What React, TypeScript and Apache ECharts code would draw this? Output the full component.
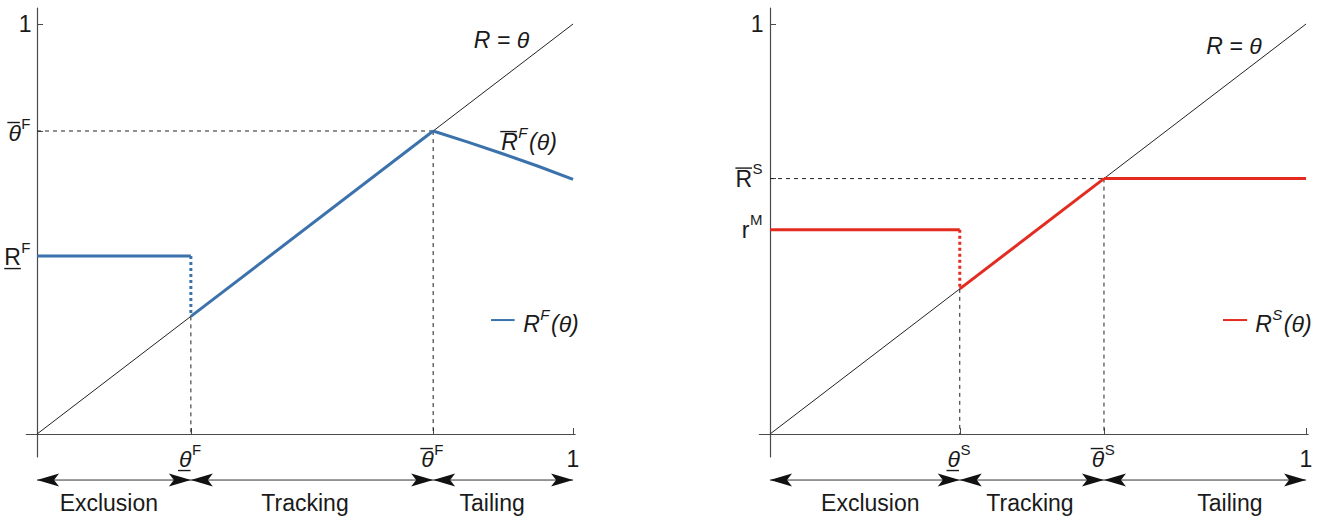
import React, { useEffect, useRef } from "react";
import * as echarts from "echarts";

// Thresholds, left panel (F)
const F_THETA_LOW = 0.287;
const F_THETA_HIGH = 0.739;
const F_R_LOW = 0.434;

// Thresholds, right panel (S)
const S_THETA_LOW = 0.354;
const S_THETA_HIGH = 0.623;
const S_R_M = 0.498;

// 45-degree reference line R = θ
const diagonal = [[0, 0], [1, 1]];

// R^F(θ) pieces
const fExclusion = [[0, 0.434], [0.287, 0.434]];
const fJump = [[0.287, 0.434], [0.287, 0.287]];
const fTracking = [[0.287, 0.287], [0.739, 0.739]];
const fTailing = [[0.739, 0.739], [0.804, 0.712], [0.87, 0.683], [0.935, 0.653], [1, 0.621]];
const fGuides = [
  [[0, 0.739], [0.739, 0.739]],
  [[0.739, 0.739], [0.739, 0]],
  [[0.287, 0.287], [0.287, 0]],
];

// R^S(θ) pieces
const sExclusion = [[0, 0.498], [0.354, 0.498]];
const sJump = [[0.354, 0.498], [0.354, 0.354]];
const sTracking = [[0.354, 0.354], [0.623, 0.623]];
const sTailing = [[0.623, 0.623], [1, 0.623]];
const sGuides = [
  [[0, 0.623], [0.623, 0.623]],
  [[0.623, 0.623], [0.623, 0]],
  [[0.354, 0.354], [0.354, 0]],
];

const regimeNames = ["Exclusion", "Tracking", "Tailing"];

const FONT = '"Liberation Sans", Arial, Helvetica, sans-serif';
const INK = "#1a1a1a";
const AXIS = "#4a4a4a";
const BLUE = "#3b72ac";
const RED = "#e32b20";
const BASE = 23;
const SUP = 15;

type Part = { text: string; italic?: boolean; sup?: boolean };
type Label = { parts: Part[]; bar?: "over" | "under" };

const measureCtx = document.createElement("canvas").getContext("2d")!;
function fontOf(size: number, italic?: boolean) {
  return `${italic ? "italic " : ""}${size}px ${FONT}`;
}
function textWidth(text: string, size: number, italic?: boolean) {
  measureCtx.font = fontOf(size, italic);
  return measureCtx.measureText(text).width;
}

// Builds a label group (base glyph, optional superscript, tail, bar) anchored at px/py
function label(px: number, py: number, spec: Label, align: "left" | "center" | "right", dy = 0) {
  const children: any[] = [];
  let cx = 0;
  let barStart = 0;
  let barEnd = 0;
  spec.parts.forEach((p, i) => {
    const size = p.sup ? SUP : BASE;
    const w = textWidth(p.text, size, p.italic);
    children.push({
      type: "text",
      x: cx,
      y: p.sup ? -10 : 0,
      silent: true,
      style: {
        text: p.text,
        font: fontOf(size, p.italic),
        fill: INK,
        textAlign: "left",
        textVerticalAlign: "middle",
      },
    });
    if (i === 0) {
      barStart = cx + (p.italic ? -1 : 0);
      barEnd = cx + w + (p.italic ? -1 : 0);
    }
    cx += w + (p.sup ? 1.5 : 0.5);
  });
  if (spec.bar) {
    const by = spec.bar === "over" ? -10.5 : 11.5;
    children.push({
      type: "line",
      silent: true,
      shape: { x1: barStart, y1: by, x2: barEnd, y2: by },
      style: { stroke: INK, lineWidth: 1.4 },
    });
  }
  const total = cx;
  const gx = align === "left" ? px : align === "center" ? px - total / 2 : px - total;
  return { type: "group", x: gx, y: py + dy, children };
}

function arrowHead(tx: number, ty: number, dir: 1 | -1) {
  const L = 22;
  const H = 6.5;
  const N = 17;
  return {
    type: "polygon",
    silent: true,
    shape: {
      points: [
        [tx, ty],
        [tx - dir * L, ty - H],
        [tx - dir * N, ty],
        [tx - dir * L, ty + H],
      ],
    },
    style: { fill: "#111" },
  };
}

function grid(left: number) {
  return { left, top: 8, width: 548.9, height: 449 };
}

function xAxis(gridIndex: number, ticks: number[]) {
  return {
    type: "value",
    gridIndex,
    min: -0.02,
    max: 1.004,
    axisLine: { onZero: true, lineStyle: { color: AXIS, width: 1.2 } },
    axisTick: { show: true, inside: true, length: 6, customValues: ticks, lineStyle: { color: AXIS } },
    axisLabel: { show: false },
    splitLine: { show: false },
  };
}

function yAxis(gridIndex: number, ticks: number[]) {
  return {
    type: "value",
    gridIndex,
    min: -0.056,
    max: 1.039,
    axisLine: { onZero: true, lineStyle: { color: AXIS, width: 1.2 } },
    axisTick: { show: true, inside: true, length: 6, customValues: ticks, lineStyle: { color: AXIS } },
    axisLabel: { show: false },
    splitLine: { show: false },
  };
}

function line(idx: number, data: number[][], color: string, width: number, type: any = "solid", z = 2) {
  return {
    type: "line",
    xAxisIndex: idx,
    yAxisIndex: idx,
    data,
    symbol: "none",
    silent: true,
    z,
    lineStyle: { color, width, type, cap: "butt" },
    emphasis: { disabled: true },
  };
}

function panelSeries(
  idx: number,
  guides: number[][][],
  excl: number[][],
  jump: number[][],
  track: number[][],
  tail: number[][],
  color: string
) {
  return [
    ...guides.map((g) => line(idx, g, "#222", 1, [4, 4], 1)),
    line(idx, diagonal, "#222", 1, "solid", 1),
    line(idx, excl, color, 3),
    line(idx, jump, color, 3, [3, 3]),
    line(idx, track, color, 3),
    line(idx, tail, color, 3),
  ];
}

function buildGraphics(chart: echarts.ECharts) {
  const out: any[] = [];
  const P = (g: number, x: number, y: number) =>
    chart.convertToPixel({ gridIndex: g } as any, [x, y]) as number[];

  const panels = [
    {
      g: 0,
      yLabels: [
        { v: 1, spec: { parts: [{ text: "1" }] } as Label },
        { v: F_THETA_HIGH, spec: { parts: [{ text: "θ", italic: true }, { text: "F", sup: true }], bar: "over" } as Label, dy: 2 },
        { v: F_R_LOW, spec: { parts: [{ text: "R" }, { text: "F", sup: true }], bar: "under" } as Label, dy: 1 },
      ],
      yGap: 5,
      xLabels: [
        { v: F_THETA_LOW, spec: { parts: [{ text: "θ", italic: true }, { text: "F", sup: true }], bar: "under" } as Label },
        { v: F_THETA_HIGH, spec: { parts: [{ text: "θ", italic: true }, { text: "F", sup: true }], bar: "over" } as Label },
        { v: 1, spec: { parts: [{ text: "1" }] } as Label },
      ],
      cuts: [0, F_THETA_LOW, F_THETA_HIGH, 1],
      regimeX: [0.134, 0.5, 0.849],
      diagLabel: [0.867, 0.961],
      legend: { x0: 0.847, x1: 0.891, xt: 0.907, y: 0.278, sup: "F", color: BLUE },
      extra: true,
    },
    {
      g: 1,
      yLabels: [
        { v: 1, spec: { parts: [{ text: "1" }] } as Label },
        { v: S_THETA_HIGH, spec: { parts: [{ text: "R" }, { text: "S", sup: true }], bar: "over" } as Label, dy: 0 },
        { v: S_R_M, spec: { parts: [{ text: "r" }, { text: "M", sup: true }] } as Label, dy: 0 },
      ],
      yGap: 6,
      xLabels: [
        { v: S_THETA_LOW, spec: { parts: [{ text: "θ", italic: true }, { text: "S", sup: true }], bar: "under" } as Label },
        { v: S_THETA_HIGH, spec: { parts: [{ text: "θ", italic: true }, { text: "S", sup: true }], bar: "over" } as Label },
        { v: 1, spec: { parts: [{ text: "1" }] } as Label },
      ],
      cuts: [0, S_THETA_LOW, S_THETA_HIGH, 1],
      regimeX: [0.187, 0.485, 0.858],
      diagLabel: [0.866, 0.946],
      legend: { x0: 0.845, x1: 0.89, xt: 0.905, y: 0.278, sup: "S", color: RED },
      extra: false,
    },
  ];

  panels.forEach((p) => {
    const origin = P(p.g, 0, 0);
    // y-axis labels
    p.yLabels.forEach((l: any) => {
      const [, py] = P(p.g, 0, l.v);
      out.push(label(origin[0] - p.yGap, py, l.spec, "right", l.dy || 0));
    });
    // x-axis labels
    p.xLabels.forEach((l) => {
      const [px] = P(p.g, l.v, 0);
      out.push(label(px, origin[1] + 25, l.spec, "center"));
    });
    // regime arrows and names
    const ay = origin[1] + 46;
    for (let i = 0; i < 3; i++) {
      const [xa] = P(p.g, p.cuts[i], 0);
      const [xb] = P(p.g, p.cuts[i + 1], 0);
      out.push({
        type: "line",
        silent: true,
        shape: { x1: xa, y1: ay, x2: xb, y2: ay },
        style: { stroke: "#333", lineWidth: 1 },
      });
      out.push(arrowHead(xa, ay, -1));
      out.push(arrowHead(xb, ay, 1));
      const [tx] = P(p.g, p.regimeX[i], 0);
      out.push({
        type: "text",
        silent: true,
        x: tx,
        y: origin[1] + 69,
        style: {
          text: regimeNames[i],
          font: fontOf(23),
          fill: INK,
          textAlign: "center",
          textVerticalAlign: "middle",
        },
      });
    }
    // R = θ
    const d = P(p.g, p.diagLabel[0], p.diagLabel[1]);
    out.push(label(d[0], d[1], { parts: [{ text: "R = θ", italic: true }] }, "center"));
    // legend
    const lg = p.legend;
    const l0 = P(p.g, lg.x0, lg.y);
    const l1 = P(p.g, lg.x1, lg.y);
    const lt = P(p.g, lg.xt, lg.y);
    out.push({
      type: "line",
      silent: true,
      shape: { x1: l0[0], y1: l0[1], x2: l1[0], y2: l1[1] },
      style: { stroke: lg.color, lineWidth: 2 },
    });
    out.push(
      label(
        lt[0],
        lt[1] + 4,
        {
          parts: [
            { text: "R", italic: true },
            { text: lg.sup, italic: true, sup: true },
            { text: "(θ)", italic: true },
          ],
        },
        "left"
      )
    );
    if (p.extra) {
      const r = P(p.g, 0.866, 0.712);
      out.push(
        label(
          r[0],
          r[1],
          {
            parts: [
              { text: "R", italic: true },
              { text: "F", italic: true, sup: true },
              { text: "(θ)", italic: true },
            ],
            bar: "over",
          },
          "left"
        )
      );
    }
  });
  return out;
}

export default function App() {
  const ref = useRef<HTMLDivElement>(null);
  useEffect(() => {
    const chart = echarts.init(ref.current!, null, { renderer: "svg" });
    chart.setOption({
      animation: false,
      backgroundColor: "#ffffff",
      textStyle: { fontFamily: FONT },
      grid: [grid(26.3), grid(759.3)],
      xAxis: [
        xAxis(0, [F_THETA_LOW, F_THETA_HIGH, 1]),
        xAxis(1, [S_THETA_LOW, S_THETA_HIGH, 1]),
      ],
      yAxis: [yAxis(0, [F_R_LOW, F_THETA_HIGH, 1]), yAxis(1, [S_R_M, S_THETA_HIGH, 1])],
      series: [
        ...panelSeries(0, fGuides, fExclusion, fJump, fTracking, fTailing, BLUE),
        ...panelSeries(1, sGuides, sExclusion, sJump, sTracking, sTailing, RED),
      ],
    });
    chart.setOption({ graphic: buildGraphics(chart) });
    return () => chart.dispose();
  }, []);
  return (
    <div
      ref={ref}
      style={{ position: "fixed", left: 0, top: 0, width: 1327, height: 520 }}
    />
  );
}
